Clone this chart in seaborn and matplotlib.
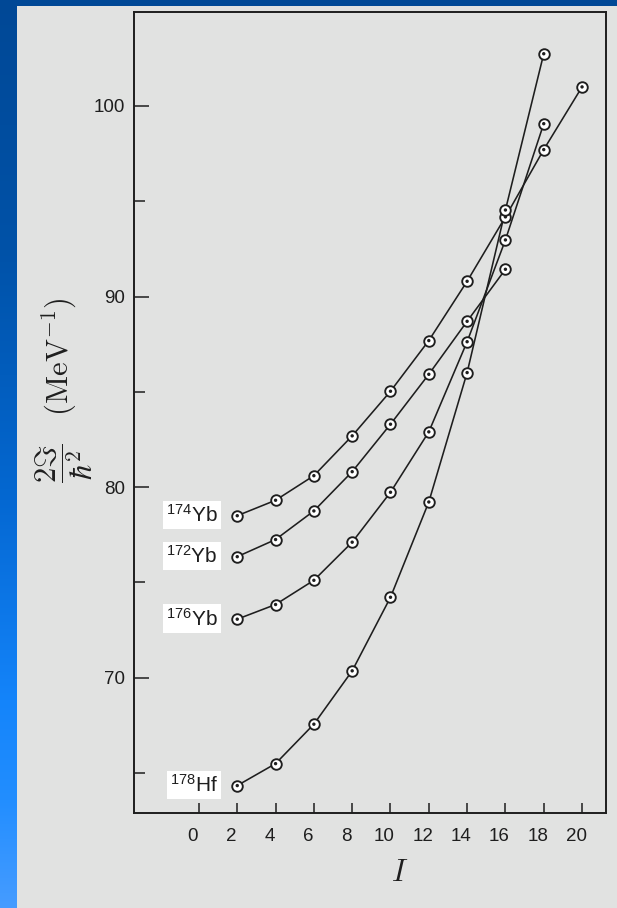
import numpy as np
import pandas as pd
import matplotlib
matplotlib.use("Agg")
import matplotlib.pyplot as plt
import matplotlib.transforms as mtransforms
from matplotlib.patches import Rectangle
from matplotlib.ticker import FixedLocator
import seaborn as sns

# Angular momentum I of the ground-band levels
spins = [2, 4, 6, 8, 10, 12, 14, 16, 18, 20]

# Moment of inertia 2J/hbar^2 (MeV^-1) for each nucleus
yb174 = [78.50, 79.31, 80.60, 82.69, 85.03, 87.69, 90.80, 94.18, 97.71, 101.00]
yb172 = [76.35, 77.25, 78.75, 80.81, 83.30, 85.92, 88.70, 91.43]
yb176 = [73.07, 73.84, 75.11, 77.11, 79.73, 82.90, 87.63, 92.97, 99.07]
hf178 = [64.34, 65.49, 67.56, 70.36, 74.22, 79.22, 86.01, 94.54, 102.74]

mass_numbers = ["174", "172", "176", "178"]
elements = ["Yb", "Yb", "Yb", "Hf"]
series = [yb174, yb172, yb176, hf178]

x_ticks = [0, 2, 4, 6, 8, 10, 12, 14, 16, 18, 20]
y_major = [70, 80, 90, 100]
y_minor = [65, 75, 85, 95]

rows = []
for m, el, vals in zip(mass_numbers, elements, series):
    for i, v in zip(spins, vals):
        rows.append({"nucleus": m + el, "I": i, "J": v})
df = pd.DataFrame(rows)

sns.set_theme(style="ticks")
plt.rcParams["font.family"] = ["Liberation Sans", "DejaVu Sans"]
plt.rcParams["mathtext.fontset"] = "custom"
plt.rcParams["mathtext.rm"] = "Liberation Sans"
plt.rcParams["mathtext.it"] = "Liberation Sans:italic"
plt.rcParams["mathtext.bf"] = "Liberation Sans:bold"

W, H = 617, 908
panel = "#e1e2e1"
ink = "#1e1e1e"

fig = plt.figure(figsize=(W / 100, H / 100), dpi=100)

# slide-style backdrop: blue gradient frame with a grey panel
bg = fig.add_axes([0, 0, 1, 1])
bg.set_zorder(-5)
bg.set_axis_off()
ys = np.arange(H)
stops_y = [0, 250, 500, 700, 800, 908]
stops_c = np.array([[0, 72, 150], [0, 82, 168], [4, 104, 210],
                    [20, 132, 250], [34, 142, 255], [70, 156, 255]]) / 255.0
grad = np.stack([np.interp(ys, stops_y, stops_c[:, k]) for k in range(3)], axis=1)
bg.imshow(grad[:, None, :], extent=(0, W, H, 0), aspect="auto", interpolation="bilinear")
bg.add_patch(Rectangle((17, 6), W - 17, H - 6, facecolor=panel, edgecolor="none"))
bg.set_xlim(0, W)
bg.set_ylim(H, 0)

ax = fig.add_axes([134 / W, 1 - 813 / H, (606 - 134) / W, (813 - 12) / H])
ax.set_facecolor(panel)

for name, grp in df.groupby("nucleus", sort=False):
    sns.lineplot(data=grp, x="I", y="J", color=ink, linewidth=1.15, ax=ax,
                 zorder=2, legend=False)
sns.scatterplot(data=df, x="I", y="J", s=58, marker="o", facecolor="white",
                edgecolor=ink, linewidth=1.35, ax=ax, zorder=3, legend=False)
sns.scatterplot(data=df, x="I", y="J", s=6, marker="o", color=ink,
                edgecolor="none", ax=ax, zorder=4, legend=False)

for m, el, vals in zip(mass_numbers, elements, series):
    ax.annotate(r"$^{\mathrm{" + m + r"}}$" + el, xy=(spins[0], vals[0]),
                xytext=(-14, 0.5), textcoords="offset points", ha="right",
                va="center", fontsize=15, color=ink, math_fontfamily="custom",
                bbox=dict(boxstyle="square,pad=0.15", facecolor="white",
                          edgecolor="none"), zorder=5)

ax.set_xlim(-3.39, 21.25)
ax.set_ylim(62.9, 104.93)
ax.xaxis.set_major_locator(FixedLocator(x_ticks))
ax.set_xticklabels([str(t) for t in x_ticks])
ax.yaxis.set_major_locator(FixedLocator(y_major))
ax.yaxis.set_minor_locator(FixedLocator(y_minor))
ax.set_yticklabels([str(t) for t in y_major])
ax.set_xlabel("")
ax.set_ylabel("")

for side in ["left", "right", "top", "bottom"]:
    ax.spines[side].set_visible(True)
    ax.spines[side].set_color(ink)
    ax.spines[side].set_linewidth(1.4)

ax.tick_params(axis="x", which="major", direction="in", length=7.2, width=1.1,
               color=ink, pad=10.5, labelsize=13.5, labelcolor=ink,
               top=False, bottom=True)
ax.tick_params(axis="y", which="major", direction="in", length=10.8, width=1.1,
               color=ink, pad=6.5, labelsize=13.5, labelcolor=ink,
               left=True, right=False)
ax.tick_params(axis="y", which="minor", direction="in", length=7.9, width=1.1,
               color=ink, left=True, right=False)

shift = mtransforms.ScaledTranslation(-6 / 100, 0, fig.dpi_scale_trans)
for lbl in ax.get_xticklabels():
    lbl.set_transform(lbl.get_transform() + shift)

fig.text(64 / W, 1 - 390 / H,
         r"$\dfrac{2\Im}{\hbar^{2}}\quad(\mathrm{MeV}^{-1})$",
         rotation=90, ha="center", va="center", fontsize=22, color=ink,
         math_fontfamily="cm")
fig.text(400 / W, 1 - 873 / H, r"$I$", ha="center", va="center",
         fontsize=22, color=ink, math_fontfamily="cm")

fig.savefig("out.png", dpi=100, facecolor=panel)
